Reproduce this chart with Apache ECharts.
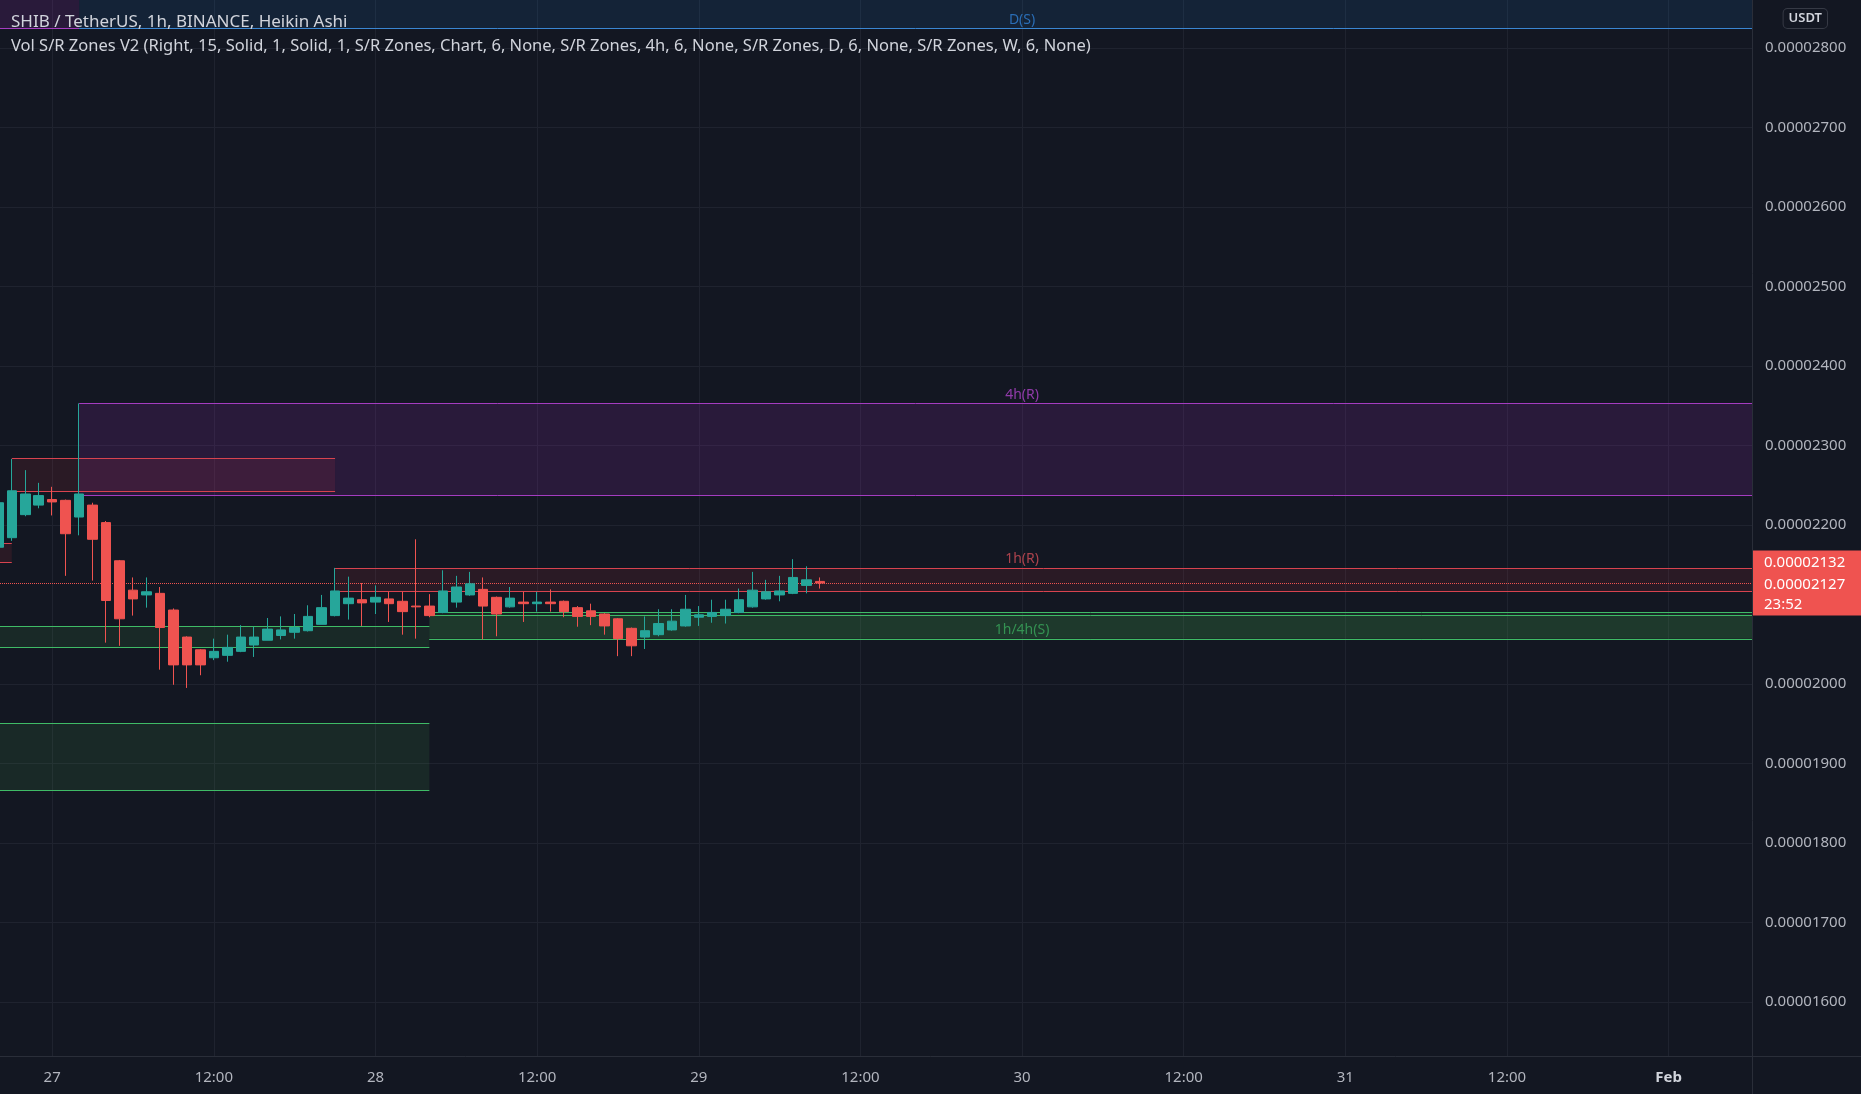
<!DOCTYPE html>
<html><head><meta charset="utf-8">
<script src="https://cdn.jsdelivr.net/npm/echarts@6/dist/echarts.min.js"></script>
<style>html,body{margin:0;padding:0;background:#131722;}#chart{width:1861px;height:1094px;}</style>
</head><body><div id="chart"></div>
<script>
// prices are in units of 1e-8 USDT (2127 = 0.00002127)
const hours  = [-4,-3,-2,-1,0,1,2,3,4,5,6,7,8,9,10,11,12,13,14,15,16,17,18,19,20,21,22,23,24,25,26,27,28,29,30,31,32,33,34,35,36,37,38,39,40,41,42,43,44,45,46,47,48,49,50,51,52,53,54,55,56,57];
const opens  = [2172,2184,2213,2225,2232,2231,2210,2225,2203,2155,2118,2112,2114,2093,2059,2043,2033,2036,2041,2049,2055,2061,2065,2067,2075,2086,2101,2106,2103,2107,2104,2098,2098,2090,2103,2112,2119,2109,2097,2103,2101,2103,2104,2096,2092,2088,2082,2070,2059,2062,2068,2073,2084,2085,2086,2090,2097,2107,2112,2114,2124,2129];
const closes = [2228,2243,2239,2237,2229,2189,2239,2182,2105,2082,2107,2116,2071,2024,2024,2024,2041,2046,2059,2059,2069,2068,2071,2085,2096,2117,2108,2102,2109,2101,2091,2097,2086,2117,2122,2126,2098,2088,2108,2101,2103,2101,2091,2085,2085,2073,2057,2048,2067,2076,2079,2094,2087,2090,2094,2106,2118,2116,2117,2134,2131,2127];
const lows   = [2165,2180,2211,2221,2212,2136,2187,2130,2052,2048,2086,2096,2018,1999,1995,2011,2030,2028,2040,2034,2055,2056,2057,2066,2075,2085,2081,2073,2088,2078,2062,2057,2084,2089,2096,2111,2056,2060,2096,2078,2091,2091,2084,2072,2074,2062,2035,2035,2044,2060,2067,2072,2073,2077,2076,2089,2096,2106,2104,2113,2114,2120];
const highs  = [2240,2283,2269,2253,2248,2232,2353,2228,2205,2156,2134,2134,2122,2095,2060,2044,2057,2062,2074,2072,2083,2085,2088,2099,2112,2146,2135,2127,2124,2116,2116,2182,2113,2143,2136,2141,2134,2110,2122,2116,2116,2119,2105,2098,2101,2089,2083,2071,2085,2094,2094,2112,2098,2106,2106,2120,2141,2131,2136,2157,2148,2134];

const xTickHours  = [0,12,24,36,48,60,72,84,96,108,120];
const xTickLabels = ['27','12:00','28','12:00','29','12:00','30','12:00','31','12:00','Feb'];
const yTickValues = [1600,1700,1800,1900,2000,2200,2300,2400,2500,2600,2700,2800];
const xRange = [-3.875, 126.19];
const yRange = [1532, 2860.4];

// S/R zones
const zoneLabels = ['', 'D(S)', '4h(R)', '', '', '1h(R)', '', '', '1h/4h(S)', ''];
const zoneKinds  = ['P', 'B', 'P', 'R', 'R', 'R', 'G', 'G', 'G', 'G'];
const zoneStart  = [xRange[0], 2, 2, -3, xRange[0], 21, xRange[0], 28, 28, xRange[0]];
const zoneEnd    = [2, xRange[1], xRange[1], 21, -3, xRange[1], 28, xRange[1], xRange[1], 28];
const zoneTop    = [yRange[1], yRange[1], 2352.8, 2283.4, 2177, 2145.9, 2073, 2089.6, 2086.8, 1951];
const zoneBottom = [2824.6, 2824.6, 2237.7, 2242.3, 2152.6, 2117, 2045.6, 2056.8, 2056.8, 1866];
const zoneLabelHour = 72;

const lastPrice = 2127, haPrice = 2132, countdown = '23:52';

const FONT = 'Noto Sans';
const kindStyle = {
  P: {fill: 'rgba(156,39,176,0.17)', line: '#a43cc0', text: '#b044cc'},
  B: {fill: 'rgba(33,150,243,0.10)', line: '#3a86d2', text: '#2f7fd4'},
  R: {fill: 'rgba(242,54,69,0.10)', line: '#d8434f', text: '#d24d58'},
  G: {fill: 'rgba(76,175,80,0.12)', line: '#3fbb66', text: '#3aa95c'}
};
const fmt = v => (v * 1e-8).toFixed(8);

const areaData = [], lineData = [], labelData = [];
zoneKinds.forEach((k, i) => {
  const st = kindStyle[k];
  areaData.push([{coord: [zoneStart[i], zoneTop[i]], itemStyle: {color: st.fill}}, {coord: [zoneEnd[i], zoneBottom[i]]}]);
  if (zoneTop[i] < yRange[1]) lineData.push([{coord: [zoneStart[i], zoneTop[i]], lineStyle: {color: st.line}}, {coord: [zoneEnd[i], zoneTop[i]]}]);
  lineData.push([{coord: [zoneStart[i], zoneBottom[i]], lineStyle: {color: st.line}}, {coord: [zoneEnd[i], zoneBottom[i]]}]);
  if (zoneLabels[i]) {
    const isSupport = zoneLabels[i].indexOf('(S)') >= 0;
    labelData.push({value: [zoneLabelHour, isSupport ? zoneBottom[i] : zoneTop[i]],
      label: {formatter: zoneLabels[i], color: st.text}});
  }
});

const candles = hours.map((h, i) => [h, opens[i], closes[i], lows[i], highs[i]]);

const chart = echarts.init(document.getElementById('chart'));
chart.setOption({
  animation: false,
  backgroundColor: '#131722',
  textStyle: {fontFamily: FONT},
  title: {
    left: 11, top: 13, itemGap: 5, padding: 0,
    text: 'SHIB / TetherUS, 1h, BINANCE, Heikin Ashi',
    subtext: 'Vol S/R Zones V2 (Right, 15, Solid, 1, Solid, 1, S/R Zones, Chart, 6, None, S/R Zones, 4h, 6, None, S/R Zones, D, 6, None, S/R Zones, W, 6, None)',
    textStyle: {fontFamily: FONT, fontSize: 17, fontWeight: 'normal', color: '#d1d4dc', lineHeight: 19},
    subtextStyle: {fontFamily: FONT, fontSize: 16.5, color: '#d1d4dc', lineHeight: 19}
  },
  grid: {left: 0, right: 109, top: 0, bottom: 38},
  xAxis: {
    type: 'value', min: xRange[0], max: xRange[1],
    axisLine: {show: false},
    axisTick: {show: false, customValues: xTickHours},
    splitLine: {show: true, lineStyle: {color: '#1f232f', width: 1}},
    axisLabel: {
      customValues: xTickHours, margin: 14, fontSize: 15, color: '#b2b5be',
      formatter: v => { const s = xTickLabels[xTickHours.indexOf(Math.round(v))] || ''; return s === 'Feb' ? '{m|Feb}' : s; },
      rich: {m: {fontSize: 15, fontWeight: 'bold', color: '#d1d4dc'}}
    }
  },
  yAxis: {
    type: 'value', position: 'right', min: yRange[0], max: yRange[1], scale: true,
    axisLine: {show: false},
    axisTick: {show: false, customValues: yTickValues},
    splitLine: {show: true, lineStyle: {color: '#1f232f', width: 1}},
    axisLabel: {customValues: yTickValues, formatter: fmt, color: '#b2b5be', fontSize: 15, margin: 13, align: 'left'}
  },
  graphic: [
    {type: 'line', shape: {x1: 1752.5, y1: 0, x2: 1752.5, y2: 1094}, style: {stroke: '#2a2e39', lineWidth: 1}, z: 50},
    {type: 'line', shape: {x1: 0, y1: 1056.5, x2: 1861, y2: 1056.5}, style: {stroke: '#2a2e39', lineWidth: 1}, z: 50},
    {type: 'text', right: 33, top: 8, z: 60,
      style: {text: 'USDT', fill: '#d1d4dc', font: '600 13px "Noto Sans"', backgroundColor: '#131722',
        borderColor: '#363a45', borderWidth: 1, borderRadius: 4, padding: [3, 5, 3, 5]}}
  ],
  series: [
    {
      type: 'line', data: [], z: 1, silent: true,
      markArea: {silent: true, data: areaData},
      markLine: {silent: true, symbol: ['none', 'none'], label: {show: false}, lineStyle: {type: 'solid', width: 1}, data: lineData}
    },
    {
      type: 'candlestick', z: 5, barWidth: 10,
      encode: {x: 0, y: [1, 2, 3, 4]},
      data: candles,
      itemStyle: {color: '#26a69a', color0: '#ef5350', borderColor: '#26a69a', borderColor0: '#ef5350', borderWidth: 1}
    },
    {
      type: 'scatter', z: 6, symbolSize: 1, itemStyle: {color: 'rgba(0,0,0,0)'}, silent: true,
      label: {show: true, position: 'top', distance: 1, fontSize: 14, fontFamily: FONT},
      data: labelData
    },
    {
      type: 'line', data: [], z: 7, silent: true,
      markLine: {
        silent: true, symbol: ['none', 'none'],
        lineStyle: {type: 'dotted', color: '#ef5350', width: 1},
        label: {
          show: true, position: 'end', distance: 1,
          formatter: '{a|' + fmt(haPrice) + '}\n{a|' + fmt(lastPrice) + '}\n{b|' + countdown + '}',
          backgroundColor: '#ef5350', padding: [1, 20, 1, 11],
          rich: {a: {color: '#ffffff', fontSize: 15, lineHeight: 22, fontFamily: FONT},
                 b: {color: '#ffffff', fontSize: 15, lineHeight: 19, fontFamily: FONT}}
        },
        data: [{yAxis: lastPrice}]
      }
    }
  ]
});
</script></body></html>
